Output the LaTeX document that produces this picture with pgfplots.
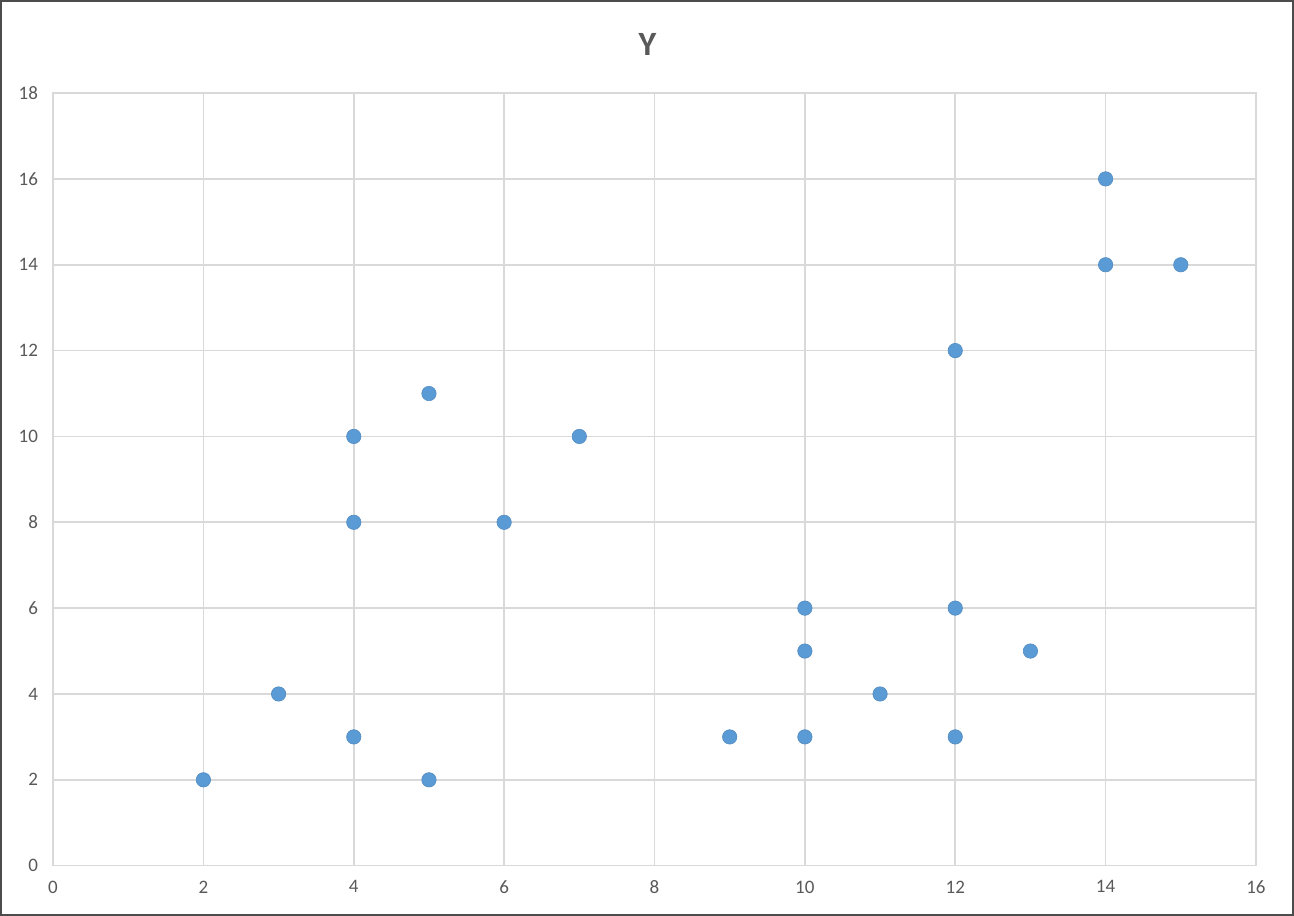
\documentclass[border=0pt]{standalone}
\usepackage{fontspec}
\setmainfont{Carlito}
\usepackage{pgfplots}
\pgfplotsset{compat=1.18}
\definecolor{gridc}{HTML}{D9D9D9}
\definecolor{txtc}{HTML}{595959}
\definecolor{ptc}{HTML}{5B9BD5}
\begin{document}
\begin{tikzpicture}
\begin{axis}[
  scale only axis,
  width=601pt, height=386pt,
  xmin=0, xmax=16, ymin=0, ymax=18,
  xtick={0,2,...,16}, ytick={0,2,...,18},
  grid=major,
  major grid style={gridc, line width=0.8pt},
  axis line style={gridc, line width=0.8pt},
  major tick length=0pt,
  tick label style={font=\fontsize{9.5}{11}\selectfont, text=txtc},
  /pgf/number format/assume math mode=true,
  xticklabel style={yshift=-4pt},
  yticklabel style={xshift=-4pt},
]
\addplot[only marks, mark=*, mark size=3.6pt, mark options={fill=ptc, draw=ptc!90!black, line width=0.3pt}] coordinates {
(2,2)(3,4)(4,3)(4,8)(4,10)(5,2)(5,11)(6,8)(7,10)(9,3)(10,3)(10,5)(10,6)(11,4)(12,3)(12,6)(12,12)(13,5)(14,14)(14,16)(15,14)
};
\end{axis}
\node[font=\bfseries\fontsize{17}{20}\selectfont, text=txtc] at (297pt,410.5pt) {Y};
\draw[gray!60!black, line width=1pt] (-26pt,-24.5pt) rectangle (619.5pt,432pt);
\end{tikzpicture}
\end{document}
